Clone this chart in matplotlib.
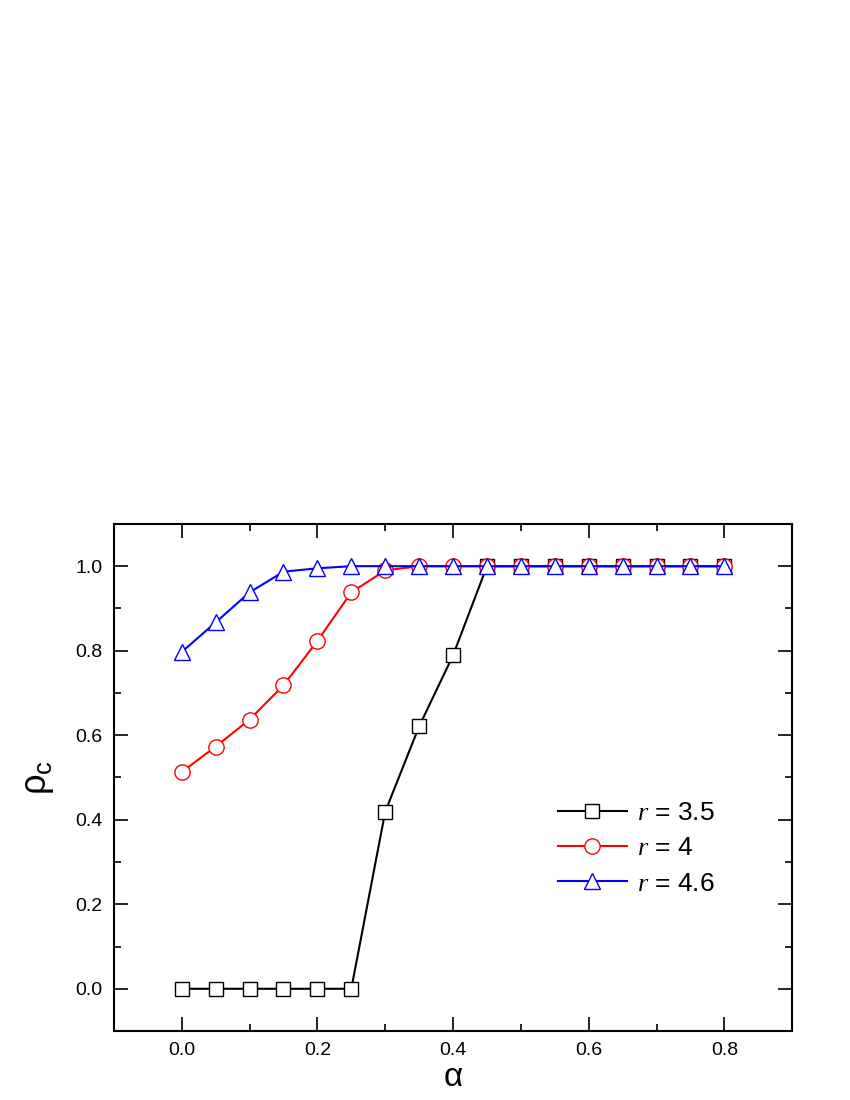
import matplotlib.pyplot as plt
from matplotlib.ticker import MultipleLocator

plt.rcParams['font.family'] = ['Liberation Sans', 'DejaVu Sans']
plt.rcParams['mathtext.fontset'] = 'custom'
plt.rcParams['mathtext.rm'] = 'Liberation Sans'
plt.rcParams['mathtext.it'] = 'Liberation Serif:italic'

alpha = [0.0, 0.05, 0.1, 0.15, 0.2, 0.25, 0.3, 0.35, 0.4, 0.45,
         0.5, 0.55, 0.6, 0.65, 0.7, 0.75, 0.8]

rho_35 = [0.0, 0.0, 0.0, 0.0, 0.0, 0.0, 0.419, 0.621, 0.789, 1.0,
          1.0, 1.0, 1.0, 1.0, 1.0, 1.0, 1.0]
rho_40 = [0.513, 0.573, 0.637, 0.718, 0.823, 0.938, 0.990, 1.0, 1.0, 1.0,
          1.0, 1.0, 1.0, 1.0, 1.0, 1.0, 1.0]
rho_46 = [0.797, 0.867, 0.938, 0.987, 0.995, 1.0, 1.0, 1.0, 1.0, 1.0,
          1.0, 1.0, 1.0, 1.0, 1.0, 1.0, 1.0]

fig = plt.figure(figsize=(8.5, 11), dpi=100)
ax = fig.add_axes([0.134, 0.0627, 0.798, 0.461])

ax.plot(alpha, rho_35, color='black', lw=1.5, marker='s', ms=10,
        mfc='white', mec='black', mew=1.0, label='$r$ = 3.5')
ax.plot(alpha, rho_40, color='red', lw=1.5, marker='o', ms=11,
        mfc='white', mec='red', mew=1.0, label='$r$ = 4')
ax.plot(alpha, rho_46, color='blue', lw=1.5, marker='^', ms=12,
        mfc='white', mec='blue', mew=1.0, label='$r$ = 4.6')

ax.set_xlim(-0.1, 0.9)
ax.set_ylim(-0.1, 1.1)
ax.xaxis.set_minor_locator(MultipleLocator(0.1))
ax.yaxis.set_minor_locator(MultipleLocator(0.1))
ax.set_xticks([0.0, 0.2, 0.4, 0.6, 0.8])
ax.set_yticks([0.0, 0.2, 0.4, 0.6, 0.8, 1.0])
ax.tick_params(which='both', direction='in', top=True, right=True,
               width=1.2, labelsize=14, pad=8)
ax.tick_params(which='major', length=10)
ax.tick_params(which='minor', length=5)
for s in ax.spines.values():
    s.set_linewidth(1.5)

ax.set_xlabel('α', fontsize=24, labelpad=2)
ax.set_ylabel(r'$\mathrm{\rho_c}$', fontsize=26, labelpad=14)

ax.legend(loc='center left', bbox_to_anchor=(0.655, 0.36), frameon=False,
          fontsize=19, numpoints=1, handlelength=2.6, handletextpad=0.4,
          labelspacing=0.42, borderpad=0, borderaxespad=0)

fig.savefig('out.png', dpi=100)
